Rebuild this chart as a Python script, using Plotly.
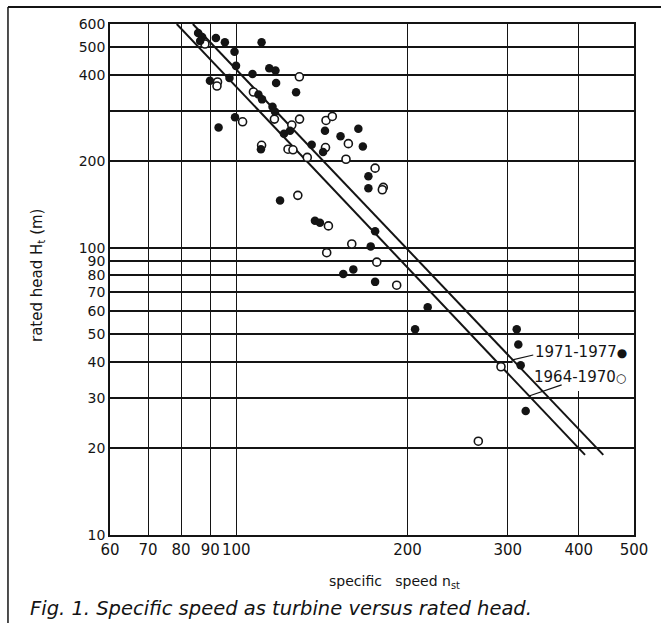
import math
import plotly.graph_objects as go

# Specific speed n_st versus rated head H_t, installations 1971-1977 (filled)
new_speed = [85.7, 87.1, 86.4, 92.1, 95.5, 110.8, 99.3, 99.9, 106.8, 114.3,
             117.2, 117.5, 127.4, 89.9, 97.3, 109.4, 111.0, 115.8, 117.0, 99.5,
             93.1, 121.3, 124.3, 143.2, 152.5, 163.9, 166.9, 135.7, 142.1, 170.7,
             170.7, 119.4, 137.5, 140.3, 175.4, 172.3, 160.6, 154.2, 175.4, 217.0,
             206.2, 311.1, 313.1, 316.1, 322.6, 110.5]
new_head = [558, 541, 524, 536, 518, 518, 480, 429, 402, 421,
            413, 374, 347, 381, 389, 341, 328, 309, 297, 284,
            262, 249, 255, 255, 244, 259, 225, 228, 215, 177,
            161, 146, 124, 122, 114, 101, 84, 81, 76, 62,
            52, 52, 46, 39, 27, 220]

# installations 1964-1970 (open)
old_speed = [88.1, 129.1, 92.7, 92.5, 107.2, 102.6, 116.7, 125.2, 129.2, 143.8,
             147.5, 110.8, 123.3, 125.8, 133.3, 143.5, 157.4, 155.9, 175.4, 181.3,
             180.6, 128.3, 145.2, 159.6, 144.2, 176.6, 191.4, 291.9, 266.3]
old_head = [511, 393, 377, 365, 348, 274, 280, 267, 280, 277,
            286, 227, 220, 219, 206, 223, 230, 203, 189, 162,
            159, 152, 119, 103, 96, 89, 74, 38.5, 21.2]

# fitted trend lines
trend_new_speed = [83.9, 441.6]
trend_new_head = [600, 19]
trend_old_speed = [78.6, 410.1]
trend_old_head = [600, 19]

x_ticks = [60, 70, 80, 90, 100, 200, 300, 400, 500]
y_ticks = [10, 20, 30, 40, 50, 60, 70, 80, 90, 100, 200, 300, 400, 500, 600]
y_tick_text = ["10", "20", "30", "40", "50", "60", "70", "80", "90", "100",
               "200", "", "400", "500", "600"]

FONT = "DejaVu Sans"
INK = "#141414"

fig = go.Figure()

# trend lines
fig.add_trace(go.Scatter(x=trend_new_speed, y=trend_new_head, mode="lines",
                         line=dict(color=INK, width=2), hoverinfo="skip"))
fig.add_trace(go.Scatter(x=trend_old_speed, y=trend_old_head, mode="lines",
                         line=dict(color=INK, width=2), hoverinfo="skip"))

# leader lines from the period labels to the trend lines
fig.add_trace(go.Scatter(x=[332.6, 304.5], y=[42.3, 40.6], mode="lines",
                         line=dict(color=INK, width=1.2), hoverinfo="skip"))
fig.add_trace(go.Scatter(x=[373.1, 327.0], y=[33.3, 30.45], mode="lines",
                         line=dict(color=INK, width=1.2), hoverinfo="skip"))

# measured points
fig.add_trace(go.Scatter(x=old_speed, y=old_head, mode="markers",
                         marker=dict(symbol="circle", size=8, color="white",
                                     line=dict(color=INK, width=1.6))))
fig.add_trace(go.Scatter(x=new_speed, y=new_head, mode="markers",
                         marker=dict(symbol="circle", size=8.5, color=INK,
                                     line=dict(width=0))))

axis_common = dict(type="log", showgrid=True, gridcolor=INK, showline=True,
                   mirror=True, linecolor=INK, linewidth=1.6, ticks="",
                   zeroline=False, tickangle=0)

fig.update_xaxes(range=[math.log10(60), math.log10(500)], tickvals=x_ticks,
                 ticktext=[str(v) for v in x_ticks], gridwidth=1,
                 tickfont=dict(family=FONT, size=15, color=INK), **axis_common)
fig.update_yaxes(range=[1, math.log10(600)], tickvals=y_ticks,
                 ticktext=y_tick_text, gridwidth=1.5,
                 tickfont=dict(family=FONT, size=14, color=INK), **axis_common)

# white panel behind the period labels
fig.add_shape(type="rect", xref="x", yref="y", x0=306, x1=500, y0=31.7, y1=48.1,
              fillcolor="white", line=dict(width=0), layer="between")

# outer figure frame (top and left rules)
fig.add_shape(type="line", xref="paper", yref="paper", x0=-0.1947, x1=1.06,
              y0=1.0333, y1=1.0333, line=dict(color=INK, width=2))
fig.add_shape(type="line", xref="paper", yref="paper", x0=-0.1947, x1=-0.1947,
              y0=1.0333, y1=-0.18, line=dict(color=INK, width=1.5))

fig.add_annotation(x=math.log10(332.3), y=math.log10(43.45), xref="x", yref="y",
                   text="1971-1977<span style='font-size:12px'>●</span>",
                   showarrow=False, xanchor="left", yanchor="middle",
                   font=dict(family=FONT, size=15, color=INK))
fig.add_annotation(x=math.log10(330.3), y=math.log10(35.6), xref="x", yref="y",
                   text="1964-1970<span style='font-size:12px'>○</span>",
                   showarrow=False, xanchor="left", yanchor="middle",
                   font=dict(family=FONT, size=15, color=INK))

fig.add_annotation(x=-0.1393, y=0.5068, xref="paper", yref="paper",
                   text="rated head H<sub>t</sub> (m)", textangle=-90, showarrow=False,
                   xanchor="center", yanchor="middle",
                   font=dict(family=FONT, size=15, color=INK))
fig.add_annotation(x=0.542, y=-0.092, xref="paper", yref="paper",
                   text="specific&nbsp;&nbsp; speed n<sub>st</sub>", showarrow=False,
                   xanchor="center", yanchor="middle",
                   font=dict(family=FONT, size=14, color=INK))
fig.add_annotation(x=-0.1565, y=-0.1429, xref="paper", yref="paper",
                   text="<i>Fig. 1. Specific speed as turbine versus rated head.</i>",
                   showarrow=False, xanchor="left", yanchor="middle",
                   font=dict(family=FONT, size=19.5, color=INK))

fig.update_layout(width=661, height=623, showlegend=False,
                  margin=dict(l=110, r=27, t=24, b=88, pad=0),
                  paper_bgcolor="white", plot_bgcolor="white")

fig.write_html("out.html")
